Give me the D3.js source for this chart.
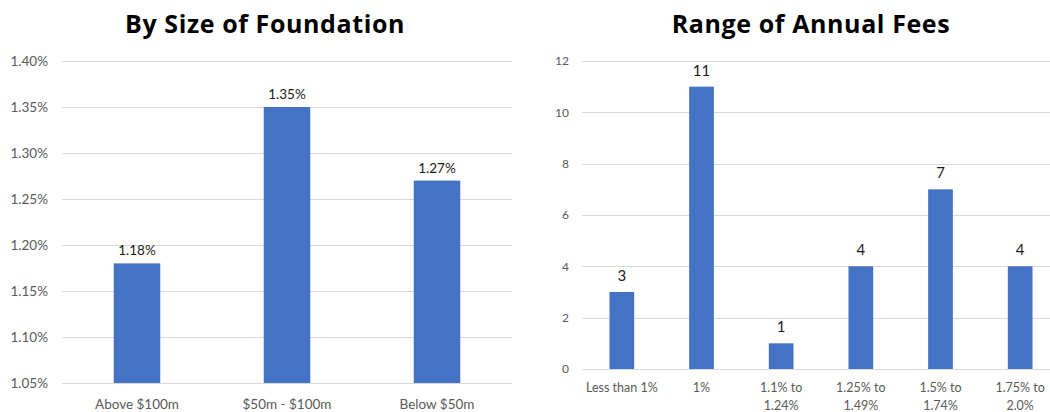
<!DOCTYPE html>
<html>
<head>
<meta charset="utf-8">
<script src="https://cdn.jsdelivr.net/npm/d3@7"></script>
<style>
  html, body { margin: 0; padding: 0; background: #fff; }
  svg { display: block; font-family: Lato, "Open Sans", sans-serif; }
</style>
</head>
<body>
<svg id="chart" width="1050" height="412"></svg>
<script>
// Average fee by foundation size (percent)
const sizeCategories = ["Above $100m", "$50m - $100m", "Below $50m"];
const sizeFees = [1.18, 1.35, 1.27];
const sizeTicks = [1.05, 1.10, 1.15, 1.20, 1.25, 1.30, 1.35, 1.40];

// Number of foundations in each annual fee range
const feeRanges = [["Less than 1%"], ["1%"], ["1.1% to", "1.24%"], ["1.25% to", "1.49%"], ["1.5% to", "1.74%"], ["1.75% to", "2.0%"]];
const feeCounts = [3, 11, 1, 4, 7, 4];
const countTicks = [0, 2, 4, 6, 8, 10, 12];

const svg = d3.select("#chart");
const barColor = "#4472C4";
const gridColor = "#d9d9d9";
const axisText = "#595959";

function drawPanel(opt) {
  const g = svg.append("g");
  const x = d3.scaleBand()
    .domain(opt.categories.map((c, i) => i))
    .range([opt.left, opt.right])
    .paddingInner(0.69)
    .paddingOuter(0.345);
  const y = d3.scaleLinear().domain(opt.domain).range([opt.bottom, opt.top]);

  // gridlines
  g.selectAll("line.grid").data(opt.ticks).join("line")
    .attr("x1", opt.left).attr("x2", opt.right)
    .attr("y1", d => Math.round(y(d)) + 0.5).attr("y2", d => Math.round(y(d)) + 0.5)
    .attr("stroke", gridColor).attr("stroke-width", 1);

  // y tick labels
  g.selectAll("text.ytick").data(opt.ticks).join("text")
    .attr("x", opt.tickX).attr("y", d => y(d))
    .attr("dy", "0.35em").attr("text-anchor", "end")
    .attr("fill", axisText).attr("font-size", opt.tickSize)
    .text(opt.tickFormat);

  // bars
  g.selectAll("rect.bar").data(opt.values).join("rect")
    .attr("x", (d, i) => x(i)).attr("width", x.bandwidth())
    .attr("y", d => y(d)).attr("height", d => opt.bottom - y(d))
    .attr("fill", barColor);

  // value labels
  g.selectAll("text.val").data(opt.values).join("text")
    .attr("x", (d, i) => x(i) + x.bandwidth() / 2).attr("y", d => y(d) - opt.valueGap)
    .attr("text-anchor", "middle").attr("fill", "#1a1a1a")
    .attr("font-size", opt.valueSize)
    .text(opt.valueFormat);

  // category labels
  const cat = g.selectAll("text.cat").data(opt.categories).join("text")
    .attr("text-anchor", "middle").attr("fill", axisText)
    .attr("font-size", opt.catSize)
    .attr("x", (d, i) => x(i) + x.bandwidth() / 2)
    .attr("y", opt.catY);
  cat.selectAll("tspan").data(d => Array.isArray(d) ? d : [d]).join("tspan")
    .attr("x", function () { return d3.select(this.parentNode).attr("x"); })
    .attr("dy", (d, i) => i === 0 ? 0 : opt.catLine)
    .text(d => d);

  // title
  g.append("text")
    .attr("x", opt.titleX).attr("y", 33)
    .attr("text-anchor", "middle").attr("font-weight", "bold")
    .attr("font-family", "'Open Sans', Lato, sans-serif")
    .attr("font-size", 25).attr("letter-spacing", "0.6px").attr("fill", "#000")
    .text(opt.title);
}

drawPanel({
  title: "By Size of Foundation", titleX: 265,
  categories: sizeCategories, values: sizeFees, ticks: sizeTicks,
  domain: [1.05, 1.40], left: 62, right: 512, top: 61, bottom: 383,
  tickX: 48, tickSize: 13.5, tickFormat: d => d.toFixed(2) + "%",
  valueSize: 13.5, valueGap: 8, valueFormat: d => d.toFixed(2) + "%",
  catSize: 13.5, catY: 409, catLine: 17
});

drawPanel({
  title: "Range of Annual Fees", titleX: 811,
  categories: feeRanges, values: feeCounts, ticks: countTicks,
  domain: [0, 12], left: 582, right: 1060, top: 61, bottom: 369,
  tickX: 569, tickSize: 12, tickFormat: d => d,
  valueSize: 15, valueGap: 11, valueFormat: d => d,
  catSize: 12.5, catY: 392, catLine: 18
});
</script>
</body>
</html>
